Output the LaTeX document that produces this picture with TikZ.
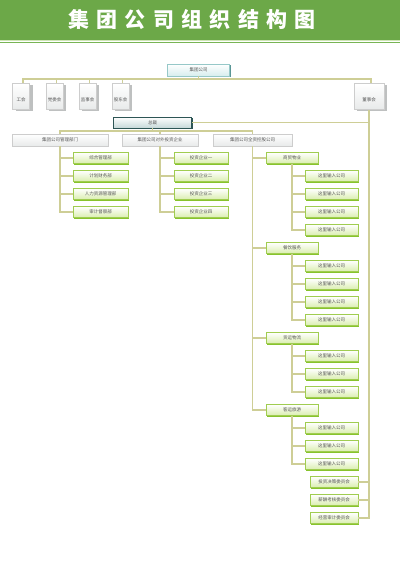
\documentclass[tikz,border=0pt]{standalone}
\usepackage{fontspec}
\newfontfamily\cjk{Noto Sans CJK SC}
\newfontfamily\cjktitle[LetterSpace=35]{Noto Sans CJK SC}
\usetikzlibrary{shadings,shadows,calc}
\definecolor{titleG}{RGB}{108,168,72}
\definecolor{titleL}{RGB}{205,230,180}
\definecolor{titleD}{RGB}{120,180,85}
\definecolor{lineC}{RGB}{206,206,150}
\definecolor{gBorder}{RGB}{160,205,80}
\definecolor{gShadow}{RGB}{135,195,45}
\definecolor{gFill}{RGB}{218,238,175}
\definecolor{grBorder}{RGB}{205,205,205}
\definecolor{grShadow}{RGB}{190,192,192}
\definecolor{grFill}{RGB}{232,234,234}
\definecolor{tBorder}{RGB}{150,200,200}
\definecolor{tShadow}{RGB}{90,150,150}
\definecolor{tFill}{RGB}{215,238,238}
\definecolor{zBorder}{RGB}{45,85,85}
\definecolor{txt}{RGB}{85,85,85}
\tikzset{
  conn/.style={draw=lineC, line width=1.3pt},
  basebox/.style={inner sep=0pt, font=\cjk\fontsize{4.5}{5}\selectfont, text=txt},
  gbox/.style={basebox, draw=gBorder, line width=0.5pt, top color=white, bottom color=gFill,
    minimum height=11pt,
    general shadow={fill=gShadow, shadow xshift=1.3pt, shadow yshift=-1.3pt}},
  grbox/.style={basebox, draw=grBorder, line width=0.5pt, top color=white, bottom color=grFill,
    minimum height=12pt,
    general shadow={fill=grShadow, shadow xshift=1.2pt, shadow yshift=-1.2pt}},
  cube/.style={basebox, draw=grBorder, line width=0.5pt, top color=white, bottom color=grFill,
    minimum height=26pt,
    general shadow={fill=grShadow, shadow xshift=3pt, shadow yshift=-1pt}},
  topbox/.style={basebox, draw=tBorder, line width=0.5pt, top color=white, bottom color=tFill,
    minimum height=12pt,
    general shadow={fill=tShadow, shadow xshift=1.5pt, shadow yshift=-0.5pt}},
  zcbox/.style={basebox, draw=zBorder, line width=0.8pt, top color=white, bottom color=tFill!80!gray,
    minimum height=11pt,
    general shadow={fill=zBorder, shadow xshift=1.3pt, shadow yshift=-1pt}},
  cubelabel/.style={font=\cjk\fontsize{4.5}{5}\selectfont, text=txt, inner sep=0pt},
}
\begin{document}
\begin{tikzpicture}[x=1pt,y=-1pt]
\useasboundingbox (0,0) rectangle (400,565);
% title bar
\fill[titleG] (0,0) rectangle (400,40);
\fill[titleL] (0,40) rectangle (400,41.4);
\fill[titleD] (0,41.6) rectangle (400,43);
\node[text=white, font=\cjktitle\bfseries\fontsize{21}{21}\selectfont, inner sep=0pt] (title) at (192,20) {集团公司组织结构图};

% top level
\node[topbox, minimum width=62] (jt) at (198.5,70) {集团公司};
\node[cube, minimum width=17] (gh) at (21,96.5) {};
\node[cube, minimum width=17] (dw) at (54.5,96.5) {};
\node[cube, minimum width=17] (js) at (87.5,96.5) {};
\node[cube, minimum width=17] (gd) at (120.5,96.5) {};
\node[cube, minimum width=30] (ds) at (369,96.5) {};
\node[cubelabel] at ([yshift=-3.5pt]gh.center) {工会};
\node[cubelabel] at ([yshift=-3.5pt]dw.center) {党委会};
\node[cubelabel] at ([yshift=-3.5pt]js.center) {监事会};
\node[cubelabel] at ([yshift=-3.5pt]gd.center) {股东会};
\node[cubelabel] at ([yshift=-3.5pt]ds.center) {董事会};
\node[zcbox, minimum width=78] (zc) at (152.5,122.5) {总裁};

\coordinate (h1) at (0,79);
\coordinate (h2) at (0,131);
\draw[conn] ([xshift=2pt]gh.north) -- ([xshift=2pt]gh.north |- h1) -- ([xshift=2pt]ds.north |- h1) -- ([xshift=2pt]ds.north);
\draw[conn] ([xshift=2pt]dw.north) -- ([xshift=2pt]dw.north |- h1);
\draw[conn] ([xshift=2pt]js.north) -- ([xshift=2pt]js.north |- h1);
\draw[conn] ([xshift=2pt]gd.north) -- ([xshift=2pt]gd.north |- h1);
\draw[conn] (jt.south) -- (jt.south |- h1);

% branches
\node[grbox, minimum width=96] (b1) at (60,140) {集团公司管理部门};
\node[grbox, minimum width=76] (b2) at (160,140) {集团公司对外投资企业};
\node[grbox, minimum width=79] (b3) at (252.5,140) {集团公司全资控股公司};
\draw[conn] (zc.south) -- (zc.south |- h2);
\draw[conn] (b1.north) -- (b1.north |- h2) -- (b3.north |- h2) -- (b3.north);
\draw[conn] (b2.north) -- (b2.north |- h2);
\draw[conn] (zc.east) -- (zc.east -| ds.south);

% branch 1
\node[gbox, minimum width=55] (k1) at (100.5,158) {综合管理部};
\node[gbox, minimum width=55] (k2) at (100.5,176) {计划财务部};
\node[gbox, minimum width=55] (k3) at (100.5,194) {人力资源管理部};
\node[gbox, minimum width=55] (k4) at (100.5,212) {审计督察部};
\foreach \n in {k1,k2,k3,k4} \draw[conn] (b1.south) |- (\n.west);

% branch 2
\node[gbox, minimum width=54] (v1) at (201,158) {投资企业一};
\node[gbox, minimum width=54] (v2) at (201,176) {投资企业二};
\node[gbox, minimum width=54] (v3) at (201,194) {投资企业三};
\node[gbox, minimum width=54] (v4) at (201,212) {投资企业四};
\foreach \n in {v1,v2,v3,v4} \draw[conn] (b2.south) |- (\n.west);

% branch 3
\node[gbox, minimum width=52] (s1) at (292,158) {商贸物业};
\node[gbox, minimum width=52] (s2) at (292,248) {餐饮服务};
\node[gbox, minimum width=52] (s3) at (292,338) {货运物流};
\node[gbox, minimum width=52] (s4) at (292,410) {客运旅游};
\foreach \n in {s1,s2,s3,s4} \draw[conn] (b3.south) |- (\n.west);

\foreach \i/\y in {1/176,2/194,3/212,4/230}
  {\node[gbox, minimum width=53] (ta\i) at (331.5,\y) {这里输入公司};
   \draw[conn] (s1.south) |- (ta\i.west);}
\foreach \i/\y in {1/266,2/284,3/302,4/320}
  {\node[gbox, minimum width=53] (tb\i) at (331.5,\y) {这里输入公司};
   \draw[conn] (s2.south) |- (tb\i.west);}
\foreach \i/\y in {1/356,2/374,3/392}
  {\node[gbox, minimum width=53] (tc\i) at (331.5,\y) {这里输入公司};
   \draw[conn] (s3.south) |- (tc\i.west);}
\foreach \i/\y in {1/428,2/446,3/464}
  {\node[gbox, minimum width=53] (td\i) at (331.5,\y) {这里输入公司};
   \draw[conn] (s4.south) |- (td\i.west);}

% committees
\node[gbox, minimum width=48] (c1) at (334,482) {投资决策委员会};
\node[gbox, minimum width=48] (c2) at (334,500) {薪酬考核委员会};
\node[gbox, minimum width=48] (c3) at (334,518) {经营审计委员会};
\draw[conn] (ds.south) -- (ds.south |- c3.east) -- (c3.east);
\draw[conn] (c1.east) -- (c1.east -| ds.south);
\draw[conn] (c2.east) -- (c2.east -| ds.south);
\end{tikzpicture}
\end{document}
